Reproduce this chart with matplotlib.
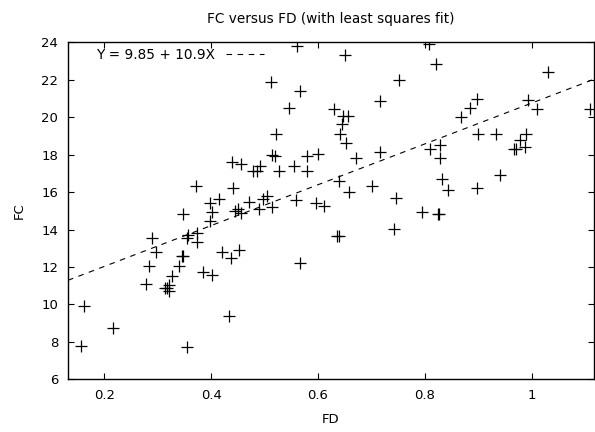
#recreate gnuplot style scatter: FC versus FD with least squares line

import numpy as np
import matplotlib
matplotlib.use('Agg')
import matplotlib.pyplot as plt

############
### DATA ###
############
fd = [0.156, 0.162, 0.217, 0.2775, 0.284, 0.290, 0.296, 0.314, 0.318, 0.322,
      0.322, 0.327, 0.340, 0.345, 0.347, 0.348, 0.354, 0.354, 0.357, 0.371,
      0.373, 0.374, 0.3855, 0.397, 0.398, 0.401, 0.4023, 0.415, 0.421, 0.433,
      0.4373, 0.4386, 0.4416, 0.445, 0.450, 0.453, 0.456, 0.456, 0.471, 0.478,
      0.4866, 0.4898, 0.4917, 0.4967, 0.5053, 0.5123, 0.514, 0.514, 0.519, 0.5216,
      0.5278, 0.5466, 0.556, 0.559, 0.5616, 0.5666, 0.5666, 0.5803, 0.5803, 0.596,
      0.601, 0.612, 0.630, 0.635, 0.640, 0.6403, 0.6416, 0.646, 0.6478, 0.6515,
      0.652, 0.656, 0.6584, 0.6716, 0.702, 0.7165, 0.716, 0.7433, 0.7465, 0.752,
      0.794, 0.809, 0.8089, 0.8209, 0.824, 0.826, 0.828, 0.829, 0.832, 0.843,
      0.8677, 0.884, 0.897, 0.898, 0.8998, 0.934, 0.9414, 0.968, 0.971, 0.9775,
      0.987, 0.9895, 0.994, 1.010, 1.030, 1.1094]
fc = [7.78, 9.93, 8.72, 11.09, 12.07, 13.56, 12.82, 10.9, 10.9, 11.05,
      10.7, 11.52, 12.07, 12.58, 14.81, 12.58, 7.74, 13.53, 13.71, 16.32,
      13.8, 13.35, 11.71, 15.4, 14.47, 14.92, 11.57, 15.61, 12.78, 9.39,
      12.49, 17.59, 16.2, 15.0, 15.08, 12.9, 14.9, 17.5, 15.49, 17.12,
      17.12, 15.08, 17.41, 15.61, 15.79, 21.9, 15.19, 18.0, 17.95, 19.1,
      17.12, 20.49, 17.41, 15.58, 23.82, 21.4, 12.2, 17.93, 17.12, 15.4,
      18.02, 15.27, 20.42, 13.67, 13.67, 16.61, 19.1, 19.62, 20.08, 23.32,
      18.6, 20.08, 16.02, 17.8, 16.32, 20.88, 18.16, 14.01, 15.7, 21.99,
      14.92, 18.32, 23.9, 22.82, 14.81, 14.81, 18.5, 17.8, 16.68, 16.09,
      19.99, 20.51, 16.2, 20.99, 19.1, 19.1, 16.9, 18.32, 18.32, 18.78,
      18.39, 19.1, 20.92, 20.42, 22.4, 20.42]

intercept = 9.85
slope = 10.9

#############
### PLOTS ###
#############
def plotFit(fd, fc):
  plt.rcParams['font.family'] = 'DejaVu Sans'
  plt.rcParams['font.size'] = 9.5
  fig = plt.figure(figsize=(5.95, 4.32), dpi=100)
  ax = fig.add_axes([68/595, 1-379.3/432, 526/595, 337/432])
  xlo, xhi = 0.132, 1.117
  X = np.array([xlo, xhi])
  ax.plot(X, intercept + slope*X, color='black', lw=0.8, linestyle=(0, (5, 5)),
          label='Y = 9.85 + 10.9X')
  ax.plot(fd, fc, '+', color='black', markersize=8, markeredgewidth=0.9)
  ax.set_xlim(xlo, xhi)
  ax.set_ylim(6, 24)
  ax.set_xticks([0.2, 0.4, 0.6, 0.8, 1.0])
  ax.set_xticklabels(['0.2', '0.4', '0.6', '0.8', '1'])
  ax.set_yticks(range(6, 25, 2))
  ax.tick_params(direction='in', length=4.5, width=0.8, top=True, right=True, pad=7)
  for s in ax.spines.values():
    s.set_linewidth(1.0)
  ax.set_title('FC versus FD (with least squares fit)', pad=14, fontsize=9.8)
  ax.set_xlabel('FD', labelpad=8)
  ax.set_ylabel('FC', labelpad=11)
  ax.legend(loc='upper left', bbox_to_anchor=(0.03, 1.02), frameon=False,
            markerfirst=False, handlelength=2.8, handletextpad=0.8, fontsize=9.8)
  fig.savefig('out.png', dpi=100)

if __name__=='__main__':
  plotFit(fd, fc)
